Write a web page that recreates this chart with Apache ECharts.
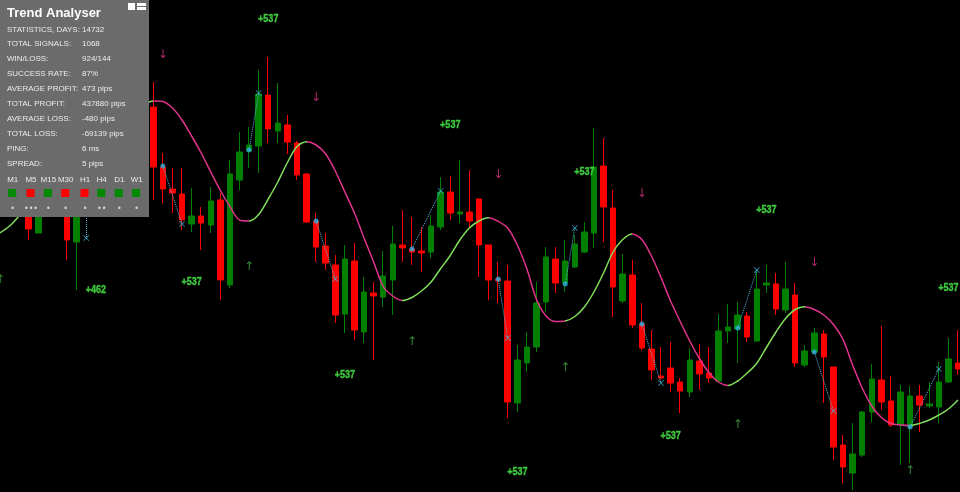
<!DOCTYPE html>
<html><head><meta charset="utf-8">
<script src="https://cdn.jsdelivr.net/npm/echarts/dist/echarts.min.js"></script>
<style>html,body{margin:0;padding:0;background:#000}#c{width:960px;height:492px}</style>
</head><body><div id="c"></div>
<script>
// Candle readings (screen-scale levels; converted to price below)
const openPx  = [205,190,200,190,233,205,195,200,242,190,178,165,172,150,140,148,107,167,189,194,224,216,225,200,285,180,151,146,95,131,125,143,174,221,246,265,314,261,332,293,297,280,245,249,251,252,227,192,214,212,199,245,279,281,403,363,347,302,259,283,267,252,233,166,208,301,275,324,349,376,368,382,392,361,373,381,331,329,316,341,285,284,310,295,365,352,334,367,445,473,455,412,380,401,425,427,396,406,407,382,363];
const closePx = [190,200,185,229,205,195,205,240,190,178,165,172,150,140,148,110,167,189,193,220,216,223,201,280,174,152,145,94,129,123,142,175,222,247,263,315,259,330,292,296,276,244,248,252,253,226,192,213,212,221,245,280,281,402,360,347,303,257,283,261,244,232,167,207,287,274,325,348,370,378,383,391,360,374,378,331,327,315,337,289,283,309,289,363,351,333,357,447,467,454,412,379,402,425,392,396,405,404,382,359,369];
const highPx  = [180,183,175,182,198,185,188,190,180,165,158,155,142,130,128,98,82,153,168,168,188,207,187,193,160,132,127,70,57,83,115,141,173,213,233,255,245,243,277,282,251,226,210,217,227,215,177,176,160,170,199,245,262,265,345,332,282,247,247,240,235,222,128,138,190,254,260,303,330,347,342,378,348,344,347,314,304,302,312,271,265,273,262,283,345,328,330,367,435,423,411,364,326,376,385,386,385,382,362,338,330];
const lowPx   = [214,210,212,240,233,214,215,260,290,205,186,180,176,160,155,152,200,203,213,230,232,250,233,300,288,190,168,173,143,143,154,180,223,262,270,323,333,340,343,360,307,315,262,265,272,258,230,220,223,228,277,300,303,418,412,372,352,312,293,292,268,253,248,242,317,303,328,350,380,379,392,413,397,390,383,382,343,363,342,342,293,315,313,367,367,353,403,460,483,490,457,422,410,427,465,463,432,408,423,383,375];
// Moving-average line
const maPx = [233,226,216,206,197,185,173,162,151,141,132,124,117,112,107,104,101,101.5,108,120,136,153,172,190.5,206.5,220,221,214.5,199,182,162.5,146.5,141.7,145,154,171,192,213,238,262,286.5,296,300.5,297.5,291,282,268.5,255.5,240,228,221,217.8,221.3,228,245,269,299.5,316,321.5,321,316.5,307,292,273,252,239.5,234,239.5,256,277.5,301,321.5,341,358.5,372.5,382,385.5,381,373,363.2,347.5,332,318.5,309.5,306.8,309.5,315,324.5,339.5,365,388,406,417.5,423.5,425,425.5,423.4,420,415,409,400];
const maTurns = [16.4,25.6,32,42,51,58.6,66,76,84,95];
// Signals
const sigStartIdx = [9,17,26,33,43,52,59,67,77,85,95];
const sigStartPx  = [200,166,150,221,249,279,284,324,328,352,427];
const sigEndIdx   = [9,19,27,35,46,53,60,69,79,87,98];
const sigEndPx    = [238,224,93,279,191,338,228,383,270,411,369];
const upIdx = [0,26,43,59,77,95];
const upPx  = [280,267,342,368,425,471];
const downIdx = [17,33,52,67,85];
const downPx  = [55,98,175,194,263];
const profitIdx  = [10,20,28,36,47,54,61,70,80,99];
const profitPx   = [290,282,19,375,125,472,172,436,210,288];
const profitText = ['+462','+537','+537','+537','+537','+537','+537','+537','+537','+537'];
// Panel
const statLabels = ['STATISTICS, DAYS:','TOTAL SIGNALS:','WIN/LOSS:','SUCCESS RATE:','AVERAGE PROFIT:','TOTAL PROFIT:','AVERAGE LOSS:','TOTAL LOSS:','PING:','SPREAD:'];
const statValues = ['14732','1068','924/144','87%','473 pips','437880 pips','-480 pips','-69139 pips','6 ms','5 pips'];
const timeframes = ['M1','M5','M15','M30','H1','H4','D1','W1'];
const tfState = ['up','down','up','down','down','up','up','up'];
const tfMarks = ['•','•••','•','•','•','••','•','•'];

const H = 492;
const level = v => H - v;
const N = openPx.length;
const cats = Array.from({length: N}, (_, i) => String(i));
const candles = openPx.map((o, i) => [level(o), level(closePx[i]), level(lowPx[i]), level(highPx[i])]);
const GREEN_LINE = '#80dd5a', PINK = '#e0338c';
const pieces = [];
let prev = null;
maTurns.concat([null]).forEach((t, k) => {
  const p = {color: k % 2 === 0 ? GREEN_LINE : PINK};
  if (prev !== null) p.gte = prev;
  if (t !== null) p.lt = t;
  pieces.push(p);
  prev = t;
});

const panelW = 149, panelH = 217;
const FONT = '8px "Liberation Sans", Arial, sans-serif';
const g = [];
g.push({type:'rect', shape:{x:0,y:0,width:panelW,height:panelH}, style:{fill:'#6b6b6b'}, z:100});
g.push({type:'text', style:{text:'Trend Analyser', x:7, y:13, fill:'#ffffff', font:'bold 13px "Liberation Sans", Arial, sans-serif', verticalAlign:'middle'}, z:101});
g.push({type:'rect', shape:{x:128,y:3,width:7,height:7}, style:{fill:'#ffffff'}, z:101});
g.push({type:'rect', shape:{x:137,y:3,width:9,height:3}, style:{fill:'#ffffff'}, z:101});
g.push({type:'rect', shape:{x:137,y:7,width:9,height:3}, style:{fill:'#ffffff'}, z:101});
statLabels.forEach((s, k) => {
  const y = 29.3 + k * 14.97;
  g.push({type:'text', style:{text:s, x:7, y:y, fill:'#ececec', font:FONT, verticalAlign:'middle'}, z:101});
  g.push({type:'text', style:{text:statValues[k], x:82, y:y, fill:'#ececec', font:FONT, verticalAlign:'middle'}, z:101});
});
const tfX = [12.7,31,48.3,65.7,85,101.7,119.3,136.7];
timeframes.forEach((t, k) => {
  g.push({type:'text', style:{text:t, x:tfX[k], y:179.3, fill:'#ececec', font:FONT, align:'center', verticalAlign:'middle'}, z:101});
  g.push({type:'rect', shape:{x:tfX[k]-4.5,y:189,width:8,height:8}, style:{fill: tfState[k]==='up' ? '#008a00' : '#ff0000'}, z:101});
  g.push({type:'text', style:{text:tfMarks[k], x:tfX[k], y:208.5, fill:'#d8d8d8', font:'8px "DejaVu Sans", sans-serif', align:'center', verticalAlign:'middle'}, z:101});
});

const lineSegs = sigStartIdx.map((s, k) => ({coords: [[s, level(sigStartPx[k])], [sigEndIdx[k], level(sigEndPx[k])]]}));
const xPath = 'path://M0,1L1,0L5,4L9,0L10,1L6,5L10,9L9,10L5,6L1,10L0,9L4,5Z';

const chart = echarts.init(document.getElementById('c'), null, {renderer:'canvas'});
chart.setOption({
  animation: false,
  backgroundColor: '#000000',
  grid: {left: 0, right: 2, top: 0, bottom: 0},
  xAxis: {type:'category', data: cats, boundaryGap: false, show: false},
  yAxis: {type:'value', min: 0, max: H, show: false},
  visualMap: {show: false, type: 'piecewise', dimension: 0, seriesIndex: 1, pieces: pieces},
  series: [
    {type:'candlestick', data: candles, barWidth: 6,
      itemStyle: {color:'#008000', color0:'#ff0000', borderColor:'#008000', borderColor0:'#ff0000', borderWidth: 1}},
    {type:'line', data: maPx.map(level), smooth: 0.3, showSymbol: false, lineStyle: {width: 1.5}, z: 3},
    {type:'lines', coordinateSystem:'cartesian2d', data: lineSegs, lineStyle:{color:'#5fb8e0', width:1, type:'dotted', opacity:1}, z: 4},
    {type:'scatter', data: sigStartIdx.map((s,k)=>[s, level(sigStartPx[k])]), symbol:'circle', symbolSize:5, itemStyle:{color:'#2fb0de'}, z: 5},
    {type:'scatter', data: sigEndIdx.map((s,k)=>[s, level(sigEndPx[k])]), symbol:xPath, symbolSize:6, itemStyle:{color:'#3fbfe8'}, z: 5},
    {type:'scatter', data: upIdx.map((s,k)=>[s, level(upPx[k])]), symbolSize:1, itemStyle:{color:'rgba(0,0,0,0)'},
      label:{show:true, position:'inside', formatter:'↑', color:'#45a845', fontSize:12, fontFamily:'"DejaVu Sans", sans-serif'}, z: 6},
    {type:'scatter', data: downIdx.map((s,k)=>[s, level(downPx[k])]), symbolSize:1, itemStyle:{color:'rgba(0,0,0,0)'},
      label:{show:true, position:'inside', formatter:'↓', color:'#d9348a', fontSize:12, fontFamily:'"DejaVu Sans", sans-serif'}, z: 6},
    {type:'custom', data: profitIdx.map((s,k)=>[s, level(profitPx[k])]), z: 6,
      renderItem: (params, api) => {
        const p = api.coord([api.value(0), api.value(1)]);
        return {type:'text', x: p[0], y: p[1], scaleX: 0.82,
          style:{text: profitText[params.dataIndex], fill:'#3ec83e', fontSize: 11, fontWeight: 'bold',
            fontFamily: '"Liberation Sans", Arial, sans-serif', stroke:'#3ec83e', lineWidth: 0.4,
            align:'center', verticalAlign:'middle'}};
      }}
  ],
  graphic: g
});
</script></body></html>
